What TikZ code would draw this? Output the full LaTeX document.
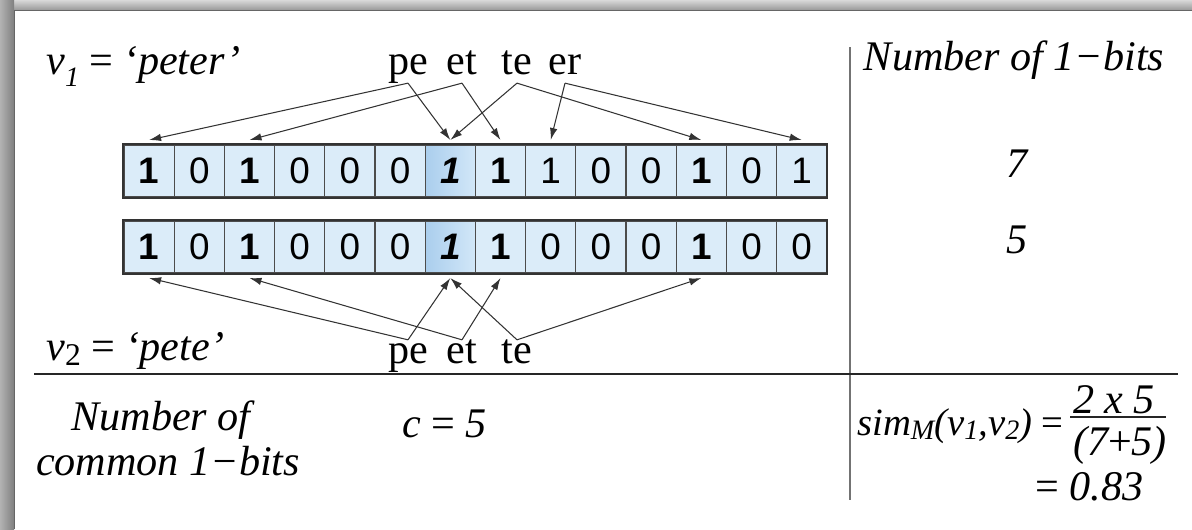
\documentclass[tikz,border=0pt]{standalone}
\usepackage{fontspec}
\setmainfont{Liberation Serif}
\setsansfont{Liberation Sans}
\usetikzlibrary{arrows.meta}
\definecolor{cellBlue}{RGB}{219,236,249}
\definecolor{cellDark}{RGB}{170,206,237}
\definecolor{cellLight}{RGB}{210,231,248}
\colorlet{cLine}{black!80}
\newcommand\bigfont{\fontsize{24}{28}\selectfont}
\newcommand\bitfont{\sffamily\fontsize{21}{21}\selectfont}
\newcommand\lowsub[2][-0.3em]{\raisebox{#1}{\fontsize{16}{16}\selectfont #2}}

\begin{document}
\begin{tikzpicture}[x=0.02cm, y=-0.02cm,
    lbl/.style={font=\bigfont\itshape, inner sep=0pt},
    gram/.style={font=\bigfont, inner sep=1pt, text height=12pt, text depth=4pt},
    bit/.style={draw=black!70, line width=0.7pt, fill=cellBlue, minimum width=1.004cm,
                minimum height=1.04cm, inner sep=0pt, font=\bitfont},
    plain/.style={},
    common/.style={font=\bitfont\bfseries},
    shared/.style={font=\bitfont\bfseries\itshape, left color=cellDark, right color=cellLight},
    link/.style={-{Latex[length=2.4mm,width=1.5mm]}, line width=0.6pt, cLine}]
  \useasboundingbox (0,0) rectangle (1192,529);
  % Frame
  \shade[top color=black!15, bottom color=black!40] (0,0) rectangle (1192,10);
  \shade[left color=black!30, right color=black!50] (0,0) rectangle (14,529);
  \draw[black!60, line width=0.5pt] (14,529) -- (14,10) -- (1192,10);
  % Rules
  \draw[black!55, line width=1pt] (850,47) -- (850,500);
  \draw[black!85, line width=1pt] (34,374) -- (1178,374);

  % v1 = peter
  \node[lbl, anchor=base west] (v1) at (46,74) {v\lowsub{1} {\upshape =} `peter'};
  \node[gram, anchor=base] (pe1) at (408,74) {pe};
  \node[gram, anchor=base] (et1) at (462,74) {et};
  \node[gram, anchor=base] (te1) at (517,74) {te};
  \node[gram, anchor=base] (er1) at (565,74) {er};
  \foreach \b/\s [count=\i] in {1/common,0/plain,1/common,0/plain,0/plain,0/plain,1/shared,
                                1/common,1/plain,0/plain,0/plain,1/common,0/plain,1/plain}
    \node[bit, \s] (ta\i) at ({124+50.2*(\i-0.5)},171) {\b};
  \draw[black!80, line width=1.1pt] (ta1.north west) rectangle (ta14.south east);
  \foreach \g/\c in {pe1/1, pe1/7, et1/3, et1/8, te1/7, te1/12, er1/9, er1/14}
    \draw[link] (\g.south) -- ([yshift=2.5pt]ta\c.north);

  % v2 = pete
  \node[lbl, anchor=base west] (v2) at (46,360)
    {v\lowsub[-0.12em]{\upshape\fontsize{18}{18}\selectfont 2}\ {\upshape =} `pete'};
  \node[gram, anchor=base] (pe2) at (408,363) {pe};
  \node[gram, anchor=base] (et2) at (462,363) {et};
  \node[gram, anchor=base] (te2) at (517,363) {te};
  \foreach \b/\s [count=\i] in {1/common,0/plain,1/common,0/plain,0/plain,0/plain,1/shared,
                                1/common,0/plain,0/plain,0/plain,1/common,0/plain,0/plain}
    \node[bit, \s] (tb\i) at ({124+50.2*(\i-0.5)},247) {\b};
  \draw[black!80, line width=1.1pt] (tb1.north west) rectangle (tb14.south east);
  \foreach \g/\c in {pe2/1, pe2/7, et2/3, et2/8, te2/7, te2/12}
    \draw[link] (\g.north) -- ([yshift=-2.5pt]tb\c.south);

  % Counts
  \node[lbl, anchor=base] (nbits) at (1014,70) {Number of 1−bits};
  \node[lbl, anchor=base] (cnt1) at (1017,177) {7};
  \node[lbl, anchor=base] (cnt2) at (1017,253) {5};

  % Common bits and similarity
  \node[lbl, anchor=base] (ncom1) at (161,430) {Number of};
  \node[lbl, anchor=base] (ncom2) at (168,475) {common 1−bits};
  \node[lbl, anchor=base west] (cval) at (402,437) {c {\upshape =} 5};
  \node[lbl, font=\fontsize{22}{26}\selectfont\itshape, anchor=base east] (sim) at (1064,435)
    {sim\lowsub[-0.12em]{M}(v\lowsub[-0.12em]{1},v\lowsub[-0.12em]{2}) {\upshape =}};
  \node[lbl, anchor=base] (num) at (1114,413) {2 x 5};
  \node[lbl, anchor=base] (den) at (1120,455) {(7{\upshape +}5)};
  \draw[black!85, line width=0.8pt] (1070,417) -- (1166,417);
  \node[lbl, anchor=base west] (res) at (1035,500) {{\upshape =} 0.83};
\end{tikzpicture}
\end{document}
